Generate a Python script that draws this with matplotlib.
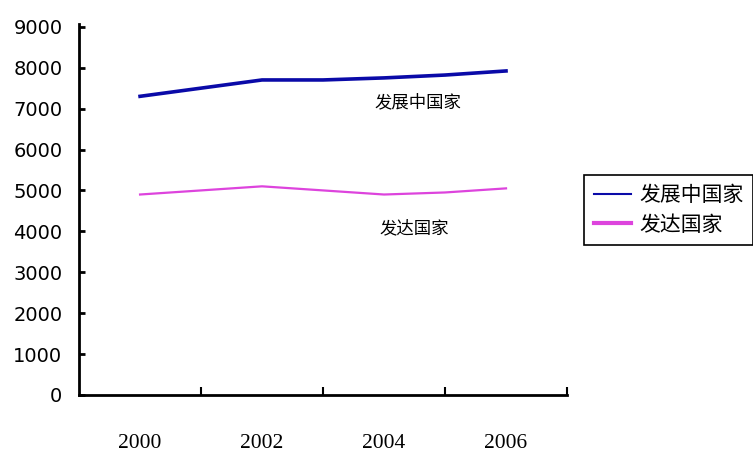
import matplotlib.pyplot as plt

plt.rcParams['font.family'] = ['Noto Sans CJK SC', 'DejaVu Sans']

years = ["2000", "2001", "2002", "2003", "2004", "2005", "2006"]
developing = [7300, 7500, 7700, 7700, 7750, 7820, 7920]
developed = [4900, 5000, 5100, 5000, 4900, 4950, 5050]
year_labels = ["2000", "2002", "2004", "2006"]
names = ["发展中国家", "发达国家"]

fig = plt.figure(figsize=(7.53, 4.57), dpi=100)
ax = fig.add_axes([0.105, 0.1357, 0.648, 0.812])

idx = list(range(len(years)))
ax.plot(idx, developing, color="#0a0aa8", lw=2.6, label=names[0])
ax.plot(idx, developed, color="#dd44dd", lw=1.6, label=names[1])

ax.set_xlim(-1, 7)
ax.set_ylim(0, 9070)

for s in ["top", "right"]:
    ax.spines[s].set_visible(False)
for s in ["left", "bottom"]:
    ax.spines[s].set_linewidth(2)

# tick marks sit between categories, labels every other year
ax.set_xticks([1, 3, 5, 7])
ax.set_xticklabels([])
ax.tick_params(axis="x", which="major", direction="in", length=6, width=1.5)
ax.set_xticks([idx[years.index(y)] for y in year_labels], minor=True)
ax.set_xticklabels(year_labels, minor=True, family="Liberation Serif", fontsize=15.5)
ax.tick_params(axis="x", which="minor", length=0, pad=28)

ax.set_yticks(range(0, 9001, 1000))
ax.tick_params(axis="y", direction="in", length=4, width=2, pad=12, labelsize=14)
for t in ax.get_yticklabels():
    t.set_family("DejaVu Sans")

ax.text(4.55, 7150, names[0], ha="center", va="center", fontsize=12.5)
ax.text(4.5, 4080, names[1], ha="center", va="center", fontsize=12.5)

leg = fig.legend(loc="upper left", bbox_to_anchor=(0.762, 0.64), fontsize=15,
                 handlelength=1.8, handletextpad=0.4, borderpad=0.45,
                 labelspacing=0.35, fancybox=False, edgecolor="black", framealpha=1)
leg.get_frame().set_linewidth(1.2)
leg.get_lines()[0].set_linewidth(1.5)
leg.get_lines()[1].set_linewidth(3)

fig.savefig("out.png", dpi=100)
